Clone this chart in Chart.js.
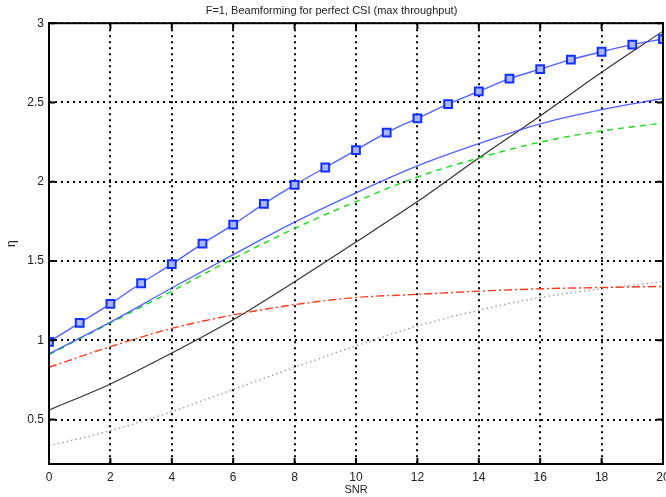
<!DOCTYPE html>
<html>
<head>
<meta charset="utf-8">
<script src="https://cdn.jsdelivr.net/npm/chart.js@4.4.1/dist/chart.umd.min.js"></script>
<style>
  html, body { margin: 0; padding: 0; background: #fff; }
  #wrap { width: 666px; height: 497px; }
</style>
</head>
<body>
<div id="wrap"><canvas id="etaChart" width="666" height="497"></canvas></div>
<script>
// SNR values
const snrAll = [0, 1, 2, 3, 4, 5, 6, 7, 8, 9, 10, 11, 12, 13, 14, 15, 16, 17, 18, 19, 20];
const snrEven = [0, 2, 4, 6, 8, 10, 12, 14, 16, 18, 20];

// eta curves
const blueMarked = [0.99, 1.11, 1.23, 1.36, 1.48, 1.61, 1.73, 1.86, 1.98, 2.09, 2.20,
                    2.31, 2.40, 2.49, 2.57, 2.65, 2.71, 2.77, 2.82, 2.865, 2.90];
const blueSolid = [0.915, 1.115, 1.33, 1.54, 1.745, 1.93, 2.10, 2.24, 2.365, 2.455, 2.525];
const greenDashed = [0.91, 1.11, 1.31, 1.515, 1.705, 1.875, 2.03, 2.15, 2.25, 2.32, 2.37];
const redDashDot = [0.83, 0.96, 1.075, 1.16, 1.225, 1.27, 1.29, 1.31, 1.325, 1.333, 1.34];
const blackSolid = [0.56, 0.725, 0.92, 1.13, 1.37, 1.62, 1.875, 2.15, 2.415, 2.69, 2.95];
const grayDotted = [0.335, 0.43, 0.55, 0.69, 0.83, 0.965, 1.09, 1.19, 1.27, 1.325, 1.37];

const xTicks = [0, 2, 4, 6, 8, 10, 12, 14, 16, 18, 20];
const yTicks = [0.5, 1, 1.5, 2, 2.5, 3];

function pts(xs, ys) {
    return xs.map((x, i) => ({ x: x, y: ys[i] }));
}

// frame + inward tick marks, matlab style
const framePlugin = {
    id: 'frame',
    afterDraw(chart) {
        const ctx = chart.ctx;
        const a = chart.chartArea;
        const xs = chart.scales.x;
        const ys = chart.scales.y;
        ctx.save();
        ctx.strokeStyle = '#000';
        ctx.lineWidth = 2;
        ctx.beginPath();
        xTicks.forEach(v => {
            const px = xs.getPixelForValue(v);
            ctx.moveTo(px, a.bottom); ctx.lineTo(px, a.bottom - 6);
            ctx.moveTo(px, a.top); ctx.lineTo(px, a.top + 6);
        });
        yTicks.forEach(v => {
            const py = ys.getPixelForValue(v);
            ctx.moveTo(a.left, py); ctx.lineTo(a.left + 6, py);
            ctx.moveTo(a.right, py); ctx.lineTo(a.right - 6, py);
        });
        ctx.stroke();
        ctx.lineWidth = 2;
        ctx.strokeRect(a.left, a.top, a.right - a.left, a.bottom - a.top);
        ctx.restore();
    }
};

const ctx = document.getElementById('etaChart').getContext('2d');

new Chart(ctx, {
    type: 'line',
    data: {
        datasets: [
            {
                data: pts(snrAll, blueMarked),
                borderColor: 'rgba(50,70,255,0.85)',
                borderWidth: 1.4,
                pointStyle: 'rect',
                pointRadius: 5.5,
                pointBorderWidth: 2,
                pointBorderColor: '#1030ff',
                pointBackgroundColor: '#aab6ff',
                cubicInterpolationMode: 'monotone'
            },
            {
                data: pts(snrEven, blueSolid),
                borderColor: 'rgba(50,70,255,0.85)',
                borderWidth: 1.4,
                pointRadius: 0,
                cubicInterpolationMode: 'monotone'
            },
            {
                data: pts(snrEven, greenDashed),
                borderColor: '#10e010',
                borderWidth: 1.4,
                borderDash: [6, 5],
                pointRadius: 0,
                cubicInterpolationMode: 'monotone'
            },
            {
                data: pts(snrEven, redDashDot),
                borderColor: '#ff3a1a',
                borderWidth: 1.4,
                borderDash: [8, 3, 2, 3],
                pointRadius: 0,
                cubicInterpolationMode: 'monotone'
            },
            {
                data: pts(snrEven, blackSolid),
                borderColor: '#333',
                borderWidth: 1.2,
                pointRadius: 0,
                cubicInterpolationMode: 'monotone'
            },
            {
                data: pts(snrEven, grayDotted),
                borderColor: '#999',
                borderWidth: 1.3,
                borderDash: [1.5, 3],
                pointRadius: 0,
                cubicInterpolationMode: 'monotone'
            }
        ]
    },
    options: {
        responsive: false,
        animation: false,
        layout: { autoPadding: false, padding: { left: 0, right: 3, top: 0, bottom: 0 } },
        plugins: {
            legend: { display: false },
            tooltip: { enabled: false },
            title: {
                display: true,
                text: 'F=1, Beamforming for perfect CSI (max throughput)',
                color: '#222',
                font: { family: 'Liberation Sans', size: 11, weight: 'normal' },
                padding: { top: 4, bottom: 6 }
            }
        },
        scales: {
            x: {
                type: 'linear',
                min: 0,
                max: 20,
                afterBuildTicks: s => { s.ticks = xTicks.map(v => ({ value: v })); },
                afterFit: s => { s.height = 33; s.paddingLeft = 0; s.paddingRight = 0; },
                ticks: {
                    color: '#222',
                    padding: 6,
                    font: { family: 'Liberation Sans', size: 12 },
                    callback: v => String(v)
                },
                grid: {
                    color: '#000',
                    lineWidth: 2,
                    drawTicks: false
                },
                border: { display: false, dash: [2, 4] },
                title: {
                    display: true,
                    text: 'SNR',
                    color: '#222',
                    font: { family: 'Liberation Sans', size: 11 },
                    padding: { top: 0, bottom: 0 }
                }
            },
            y: {
                min: 0.22,
                max: 3,
                afterBuildTicks: s => { s.ticks = yTicks.map(v => ({ value: v })); },
                afterFit: s => { s.width = 49; s.paddingTop = 0; s.paddingBottom = 0; },
                ticks: {
                    color: '#222',
                    padding: 5,
                    font: { family: 'Liberation Sans', size: 12 },
                    callback: v => String(v)
                },
                grid: {
                    color: '#000',
                    lineWidth: 2,
                    drawTicks: false
                },
                border: { display: false, dash: [2, 4] },
                title: {
                    display: true,
                    text: 'η',
                    color: '#222',
                    font: { family: 'Liberation Sans', size: 12 },
                    padding: { top: 4, bottom: 0 }
                }
            }
        }
    },
    plugins: [framePlugin]
});
</script>
</body>
</html>
